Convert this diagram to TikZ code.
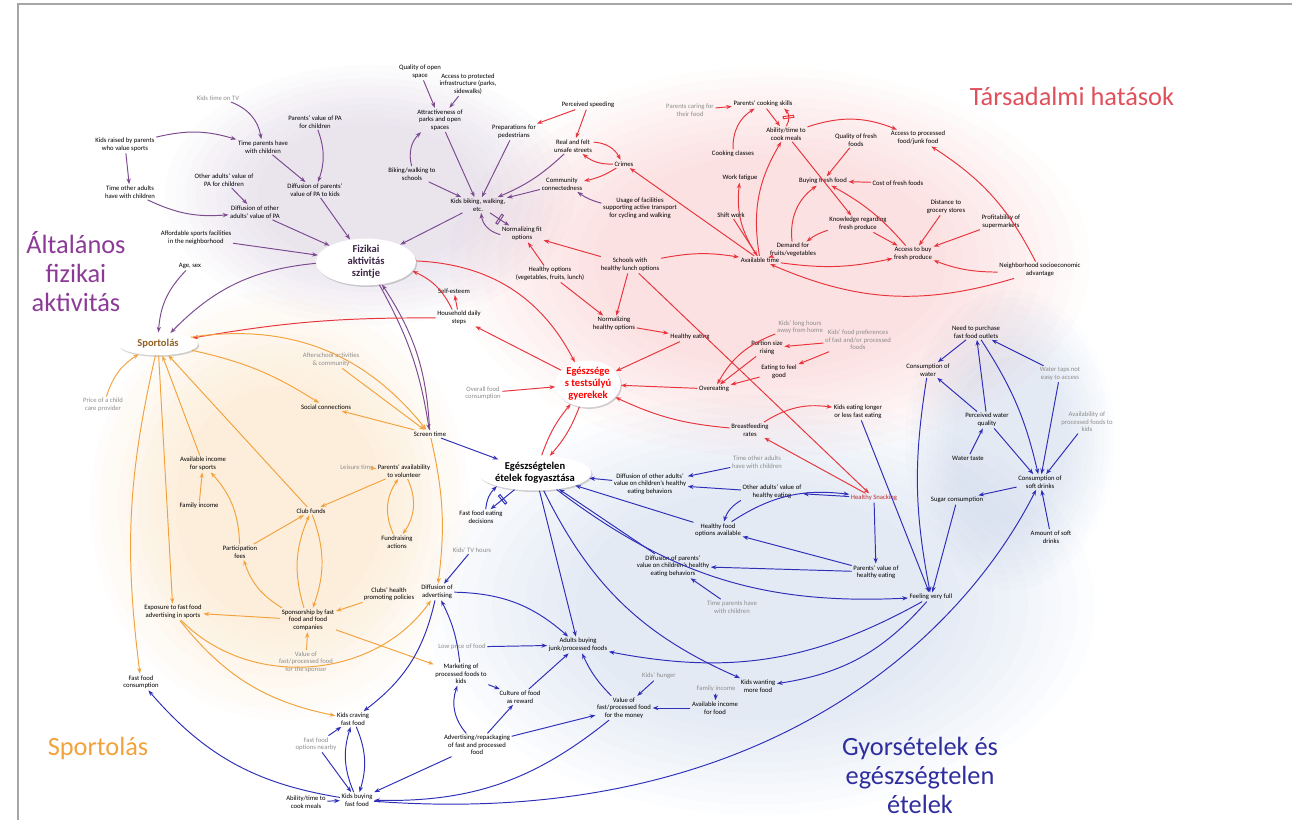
\documentclass[tikz,border=0pt]{standalone}
\usepackage{fontspec}
\setmainfont{Carlito}
\usetikzlibrary{arrows.meta, shapes.geometric, shadows}
\definecolor{lila}{HTML}{7B4A8F}
\definecolor{rojo}{HTML}{E8343C}
\definecolor{naranja}{HTML}{F2A23C}
\definecolor{azul}{HTML}{2E2EB8}
\definecolor{lilatit}{HTML}{8B3A96}
\definecolor{rojotit}{HTML}{E0505A}
\definecolor{azultit}{HTML}{2E2E9E}
\definecolor{fondoazul}{HTML}{6A8AC0}
\definecolor{fondolila}{HTML}{8A6A9E}
\tikzset{
  var/.style={font=\fontsize{3.8}{4.3}\selectfont, align=center, inner sep=.8pt},
  exo/.style={var, text=black!45},
  hub/.style={ellipse, fill=white, drop shadow={shadow xshift=.7pt, shadow yshift=-.9pt, opacity=.35}, font=\bfseries\fontsize{6}{6.8}\selectfont, align=center, inner sep=0pt},
  flecha/.style={-{Stealth[length=3.2pt, width=2.4pt]}, line width=.55pt},
  lil/.style={flecha, lila},
  roj/.style={flecha, rojo},
  nar/.style={flecha, naranja},
  azu/.style={flecha, azul},
  retraso/.style={sloped, draw, inner sep=0pt, minimum width=1.2pt, minimum height=6pt},
  titulo/.style={font=\fontsize{15}{16.5}\selectfont, align=center},
}
\begin{document}
\begin{tikzpicture}[x=0.02cm, y=-0.02cm]
\useasboundingbox (0,0) rectangle (1292,820);
% fondos
\foreach \s in {1,.95,.9,.85,.8,.75,.7,.65,.6,.55} {
  \fill[rojo, opacity=.015] (770,262) ellipse ({320*\s} and {195*\s});
  \fill[naranja, opacity=.018] (280,505) ellipse ({190*\s} and {215*\s});
  \fill[fondoazul, opacity=.018] (760,605) ellipse ({335*\s} and {210*\s});
  \fill[fondoazul, opacity=.018] (1010,440) ellipse ({105*\s} and {150*\s});
  \fill[fondolila, opacity=.018] (370,195) ellipse ({205*\s} and {130*\s});
}
\draw[gray!70, line width=1.2pt] (18,820) -- (18,4) -- (1292,4); % marco
% titulos
\node[titulo, text=rojotit] (tsoc) at (1072,96) {Társadalmi hatások};
\node[titulo, text=lilatit] (tfis) at (76,272) {Általános\\fizikai\\aktivitás};
\node[titulo, text=naranja] (tspo) at (98,748) {Sportolás};
\node[titulo, text=azultit] (tgyo) at (920,775) {Gyorsételek és\\egészségtelen\\ételek};
% nodos principales
\node[hub, text=lila!50!black, minimum width=2cm, minimum height=.8cm] (fisica) at (366,262) {Fizikai\\aktivitás\\szintje};
\node[hub, text=naranja!60!black, minimum width=1.6cm, minimum height=.45cm] (sport) at (158,344) {Sportolás};
\node[hub, text=red, minimum width=1.3cm, minimum height=.85cm] (peso) at (588,384) {Egészsége\\s testsúlyú\\gyerekek};
\node[hub, text=black, minimum width=2.2cm, minimum height=.7cm] (insano) at (535,473) {Egészségtelen\\ételek fogyasztása};
% actividad fisica
\node[var] (calidad) at (420,72) {Quality of open\\space};
\node[var] (acceso) at (468,84) {Access to protected\\infrastructure (parks,\\sidewalks)};
\node[var] (parques) at (440,120) {Attractiveness of\\parks and open\\spaces};
\node[var] (prep) at (514,132) {Preparations for\\pedestrians};
\node[exo] (tvtime) at (218,98) {Kids time on TV};
\node[var] (valpad) at (315,122) {Parents' value of PA\\for children};
\node[var] (criados) at (125,145) {Kids raised by parents\\who value sports};
\node[var] (tiempopad) at (263,147) {Time parents have\\with children};
\node[var] (valotr) at (224,180) {Other adults' value of\\PA for children};
\node[var] (tiempootr) at (130,192) {Time other adults\\have with children};
\node[var] (difpad) at (315,190) {Diffusion of parents'\\value of PA to kids};
\node[var] (difotr) at (255,212) {Diffusion of other\\adults' value of PA};
\node[var] (bicicole) at (412,174) {Biking/walking to\\schools};
\node[var] (ninosbici) at (478,205) {Kids biking, walking,\\etc.};
\node[var] (comunidad) at (562,184) {Community\\connectedness};
\node[var] (uso) at (640,208) {Usage of facilities\\supporting active transport\\for cycling and walking};
\node[var] (normfit) at (522,234) {Normalizing fit\\options};
\node[var] (asequible) at (196,238) {Affordable sports facilities\\in the neighborhood};
\node[var] (edad) at (190,266) {Age, sex};
% influencias sociales
\node[var] (velocidad) at (588,105) {Perceived speeding};
\node[var] (inseguro) at (573,146) {Real and felt\\unsafe streets};
\node[var] (crimen) at (624,164) {Crimes};
\node[exo] (cuidado) at (690,110) {Parents caring for\\their food};
\node[var] (habilidad) at (763,104) {Parents' cooking skills};
\node[var] (cocinar) at (786,134) {Ability/time to\\cook meals};
\node[var] (clases) at (733,154) {Cooking classes};
\node[var] (fatiga) at (740,178) {Work fatigue};
\node[var] (turnos) at (731,215) {Shift work};
\node[var] (calfresco) at (856,140) {Quality of fresh\\foods};
\node[var] (accproc) at (918,138) {Access to processed\\food/junk food};
\node[var] (comprar) at (823,181) {Buying fresh food};
\node[var] (coste) at (898,183) {Cost of fresh foods};
\node[var] (conoc) at (858,224) {Knowledge regarding\\fresh produce};
\node[var] (distancia) at (946,207) {Distance to\\grocery stores};
\node[var] (rentab) at (1001,222) {Profitability of\\supermarkets};
\node[var] (demanda) at (793,250) {Demand for\\fruits/vegetables};
\node[var] (accfresco) at (913,254) {Access to buy\\fresh produce};
\node[var] (barrio) at (1040,270) {Neighborhood socioeconomic\\advantage};
\node[var] (tiempo) at (760,260) {Available time};
\node[var] (escuelas) at (630,265) {Schools with\\healthy lunch options};
\node[var] (opciones) at (550,274) {Healthy options\\(vegetables, fruits, lunch)};
\node[var] (autoest) at (454,291) {Self-esteem};
\node[var] (pasos) at (459,318) {Household daily\\steps};
\node[var] (normsano) at (614,324) {Normalizing\\healthy options};
\node[var] (comesano) at (690,337) {Healthy eating};
\node[exo] (horas) at (800,327) {Kids' long hours\\away from home};
\node[exo] (prefer) at (858,340) {Kids' food preferences\\of fast and/or processed\\foods};
\node[var] (porcion) at (767,348) {Portion size\\rising};
\node[var] (sentir) at (779,372) {Eating to feel\\good};
\node[var] (sobre) at (714,389) {Overeating};
\node[exo] (consumo) at (483,393) {Overall food\\consumption};
\node[var] (comelento) at (858,412) {Kids eating longer\\or less fast eating};
\node[var] (lactancia) at (750,430) {Breastfeeding\\rates};
\node[var, text=rojo!80!black] (picoteo) at (874,498) {Healthy Snacking};
% deporte
\node[exo] (extraesc) at (331,360) {Afterschool activities\\\& community};
\node[exo] (precio) at (103,405) {Price of a child\\care provider};
\node[var] (social) at (326,407) {Social connections};
\node[var] (pantalla) at (430,434) {Screen time};
\node[exo] (tiempolib) at (357,467) {Leisure time};
\node[var] (volunt) at (404,471) {Parents' availability\\to volunteer};
\node[var] (ingsport) at (203,464) {Available income\\for sports};
\node[var] (ingfam) at (199,506) {Family income};
\node[var] (fondos) at (311,511) {Club funds};
\node[var] (cuotas) at (240,552) {Participation\\fees};
\node[var] (recauda) at (397,542) {Fundraising\\actions};
\node[var] (politica) at (389,594) {Clubs' health\\promoting policies};
\node[var] (exposic) at (173,612) {Exposure to fast food\\advertising in sports};
\node[var] (patrocinio) at (308,620) {Sponsorship by fast\\food and food\\companies};
\node[exo] (valpatro) at (306,662) {Value of\\fast/processed food\\for the sponsor};
\node[var] (comrapida) at (141,682) {Fast food\\consumption};
% comida rapida
\node[var] (necesidad) at (976,332) {Need to purchase\\fast food outlets};
\node[var] (agua) at (928,370) {Consumption of\\water};
\node[exo] (grifos) at (1060,374) {Water taps not\\easy to access};
\node[var] (percagua) at (987,420) {Perceived water\\quality};
\node[exo] (dispproc) at (1087,422) {Availability of\\processed foods to\\kids};
\node[var] (sabor) at (968,458) {Water taste};
\node[var] (refrescos) at (1040,482) {Consumption of\\soft drinks};
\node[var] (azucar) at (957,500) {Sugar consumption};
\node[var] (cantidad) at (1051,537) {Amount of soft\\drinks};
\node[var] (lleno) at (931,597) {Feeling very full};
\node[var] (valotrsano) at (772,492) {Other adults' value of\\healthy eating};
\node[var] (alimsano) at (718,530) {Healthy food\\options available};
\node[exo] (tiempootr2) at (757,462) {Time other adults\\have with children};
\node[var] (difotr2) at (650,484) {Diffusion of other adults'\\value on children's healthy\\eating behaviors};
\node[var] (difpad2) at (673,566) {Diffusion of parents'\\value on children's healthy\\eating behaviors};
\node[exo] (tiempopad2) at (732,607) {Time parents have\\with children};
\node[var] (valpadsano) at (876,572) {Parents' value of\\healthy eating};
\node[var] (decision) at (481,517) {Fast food eating\\decisions};
\node[exo] (tvninos) at (472,550) {Kids' TV hours};
\node[var] (difpubli) at (437,592) {Diffusion of\\advertising};
\node[exo] (precbajo) at (462,647) {Low price of food};
\node[var] (adultos) at (578,645) {Adults buying\\junk/processed foods};
\node[var] (market) at (461,674) {Marketing of\\processed foods to\\kids};
\node[var] (kidsquiere) at (758,686) {Kids wanting\\more food};
\node[exo] (hambre) at (659,676) {Kids' hunger};
\node[var] (premio) at (520,697) {Culture of food\\as reward};
\node[var] (valor) at (624,708) {Value of\\fast/processed food\\for the money};
\node[var] (ingcomida) at (715,708) {Available income\\for food};
\node[exo] (ingfam2) at (716,689) {Family income};
\node[var] (antojo) at (353,719) {Kids craving\\fast food};
\node[exo] (opcrap) at (316,744) {Fast food\\options nearby};
\node[var] (reempaque) at (477,745) {Advertising/repackaging\\of fast and processed\\food};
\node[var] (cocinar2) at (306,802) {Ability/time to\\cook meals};
\node[var] (compran) at (357,800) {Kids buying\\fast food};
% flechas lila
\draw[lil] (calidad) -- (parques);
\draw[lil] (acceso) -- (parques);
\draw[lil] (parques) -- (ninosbici);
\draw[lil] (bicicole) to[bend left=30] (parques);
\draw[lil] (bicicole) -- (ninosbici);
\draw[lil] (prep) -- (ninosbici);
\draw[lil] (inseguro) to[bend left=10] (ninosbici);
\draw[lil] (comunidad) -- (ninosbici);
\draw[lil] (uso) to[bend left=10] (comunidad);
\draw[lil] (ninosbici) -- node[retraso, draw=lila]{} (normfit);
\draw[lil] (normfit) to[bend left=35] (ninosbici);
\draw[lil] (ninosbici) -- (fisica);
\draw[lil] (tvtime) to[bend left=30] (tiempopad);
\draw[lil] (criados) to[bend left=15] (tiempopad);
\draw[lil] (criados) -- (tiempootr);
\draw[lil] (tiempopad) -- (difpad);
\draw[lil] (valpad) to[bend left=20] (difpad);
\draw[lil] (valotr) -- (difotr);
\draw[lil] (tiempootr) to[bend right=15] (difotr);
\draw[lil] (difotr) -- (fisica);
\draw[lil] (difpad) -- (fisica);
\draw[lil] (asequible) -- (fisica);
\draw[lil] (fisica) to[bend right=20] (sport);
\draw[lil] (edad) to[bend right=20] (sport);
\draw[lil] (fisica) to[bend left=10] (pantalla);
\draw[lil] (pantalla) to[bend right=15] (fisica);
% flechas rojas
\draw[roj] (velocidad) -- (prep);
\draw[roj] (velocidad) -- (inseguro);
\draw[roj] (inseguro) to[bend left=30] (crimen);
\draw[roj] (crimen) to[bend left=20] (inseguro);
\draw[roj] (crimen) to[bend left=10] (comunidad);
\draw[roj] (cuidado) -- (habilidad);
\draw[roj] (clases) to[bend left=30] (habilidad);
\draw[roj] (habilidad) -- (cocinar);
\draw[roj] (cocinar) to[bend right=40] node[retraso, draw=rojo]{} (habilidad);
\draw[roj] (tiempo) to[bend left=20] (fatiga);
\draw[roj] (tiempo) -- (crimen);
\draw[roj] (tiempo) to[bend left=20] (cocinar);
\draw[roj] (turnos) -- (tiempo);
\draw[roj] (cocinar) to[bend left=20] (accproc);
\draw[roj] (cocinar) -- (conoc);
\draw[roj] (calfresco) -- (comprar);
\draw[roj] (coste) -- (comprar);
\draw[roj] (demanda) to[bend left=30] (comprar);
\draw[roj] (conoc) to[bend right=10] (demanda);
\draw[roj] (conoc) -- (accfresco);
\draw[roj] (distancia) -- (accfresco);
\draw[roj] (rentab) -- (accfresco);
\draw[roj] (accfresco) to[bend right=10] (comprar);
\draw[roj] (barrio) to[bend right=15] (accproc);
\draw[roj] (barrio) to[bend left=10] (accfresco);
\draw[roj] (barrio) to[bend left=20] (tiempo);
\draw[roj] (tiempo) to[bend right=10] (accfresco);
\draw[roj] (tiempo) -- (demanda);
\draw[roj] (escuelas) -- (normfit);
\draw[roj] (escuelas) -- (normsano);
\draw[roj] (escuelas) to[bend left=10] (tiempo);
\draw[roj] (opciones) -- (normsano);
\draw[roj] (opciones) -- (normfit);
\draw[roj] (normsano) -- (comesano);
\draw[roj] (comesano) -- (peso);
\draw[roj] (pasos) -- (autoest);
\draw[roj] (pasos) to[bend right=20] (fisica);
\draw[roj] (peso) -- (pasos);
\draw[roj] (fisica) to[bend left=30] (peso);
\draw[roj] (pasos) to[bend right=5] (sport);
\draw[roj] (consumo) -- (peso);
\draw[roj] (sobre) -- (peso);
\draw[roj] (porcion) -- (sobre);
\draw[roj] (sentir) -- (sobre);
\draw[roj] (horas) to[bend right=20] (sobre);
\draw[roj] (prefer) -- (sentir);
\draw[roj] (prefer) -- (porcion);
\draw[roj] (lactancia) to[bend left=10] (peso);
\draw[roj] (lactancia) to[bend left=20] (comelento);
\draw[roj] (picoteo) -- (lactancia);
\draw[roj] (escuelas) -- (picoteo);
\draw[roj] (peso) to[bend left=10] (insano);
\draw[roj] (insano) to[bend left=10] (peso);
% flechas naranjas
\draw[nar] (sport) to[bend left=10] (social);
\draw[nar] (pantalla) -- (social);
\draw[nar] (extraesc) -- (pantalla);
\draw[nar] (sport) to[bend left=30] (pantalla);
\draw[nar] (precio) to[bend left=20] (sport);
\draw[nar] (ingsport) -- (sport);
\draw[nar] (ingfam) -- (ingsport);
\draw[nar] (cuotas) to[bend right=20] (ingsport);
\draw[nar] (fondos) -- (sport);
\draw[nar] (cuotas) -- (fondos);
\draw[nar] (tiempolib) -- (volunt);
\draw[nar] (volunt) -- (fondos);
\draw[nar] (volunt) to[bend left=30] (recauda);
\draw[nar] (recauda) to[bend left=30] (volunt);
\draw[nar] (fondos) to[bend left=20] (patrocinio);
\draw[nar] (patrocinio) to[bend left=20] (fondos);
\draw[nar] (politica) -- (patrocinio);
\draw[nar] (patrocinio) -- (exposic);
\draw[nar] (patrocinio) to[bend left=20] (cuotas);
\draw[nar] (valpatro) -- (patrocinio);
\draw[nar] (patrocinio) -- (market);
\draw[nar] (sport) -- (exposic);
\draw[nar] (sport) to[bend right=10] (comrapida);
\draw[nar] (exposic) to[bend right=20] (antojo);
\draw[nar] (exposic) to[bend right=50] (difpubli);
\draw[nar] (pantalla) to[bend left=10] (difpubli);
% flechas azules
\draw[azu] (necesidad) -- (agua);
\draw[azu] (grifos) -- (necesidad);
\draw[azu] (percagua) -- (agua);
\draw[azu] (percagua) -- (necesidad);
\draw[azu] (percagua) -- (refrescos);
\draw[azu] (sabor) -- (percagua);
\draw[azu] (necesidad) to[bend left=10] (refrescos);
\draw[azu] (grifos) -- (refrescos);
\draw[azu] (dispproc) -- (refrescos);
\draw[azu] (cantidad) -- (refrescos);
\draw[azu] (refrescos) -- (azucar);
\draw[azu] (agua) to[bend right=10] (lleno);
\draw[azu] (azucar) -- (lleno);
\draw[azu] (comelento) -- (lleno);
\draw[azu] (lleno) to[bend left=20] (kidsquiere);
\draw[azu] (compran) .. controls (760,830) and (960,640) .. (refrescos);
\draw[azu] (picoteo) -- (valpadsano);
\draw[azu] (picoteo) -- (valotrsano);
\draw[azu] (valotrsano) -- (difotr2);
\draw[azu] (tiempootr2) -- (difotr2);
\draw[azu] (valotrsano) to[bend right=20] (alimsano);
\draw[azu] (alimsano) to[bend left=20] (picoteo);
\draw[azu] (valpadsano) -- (alimsano);
\draw[azu] (valpadsano) -- (difpad2);
\draw[azu] (tiempopad2) -- (difpad2);
\draw[azu] (insano) -- node[retraso, draw=azul]{} (decision);
\draw[azu] (decision) to[bend left=20] (insano);
\draw[azu] (insano) to[bend right=20] (lleno);
\draw[azu] (insano) to[bend right=20] (kidsquiere);
\draw[azu] (insano) -- (adultos);
\draw[azu] (alimsano) -- (insano);
\draw[azu] (difotr2) -- (insano);
\draw[azu] (difpad2) -- (insano);
\draw[azu] (pantalla) -- (insano);
\draw[azu] (tvninos) -- (difpubli);
\draw[azu] (difpubli) to[bend left=20] (adultos);
\draw[azu] (precbajo) -- (adultos);
\draw[azu] (market) -- (premio);
\draw[azu] (premio) -- (adultos);
\draw[azu] (valor) to[bend left=10] (adultos);
\draw[azu] (hambre) -- (valor);
\draw[azu] (ingcomida) -- (valor);
\draw[azu] (ingfam2) -- (ingcomida);
\draw[azu] (reempaque) to[bend left=30] (market);
\draw[azu] (reempaque) -- (premio);
\draw[azu] (reempaque) -- (valor);
\draw[azu] (reempaque) -- (compran);
\draw[azu] (valor) to[bend left=20] (compran);
\draw[azu] (market) to[bend right=10] (difpubli);
\draw[azu] (difpubli) to[bend left=20] (antojo);
\draw[azu] (antojo) to[bend left=20] (compran);
\draw[azu] (compran) to[bend left=20] (antojo);
\draw[azu] (opcrap) -- (antojo);
\draw[azu] (opcrap) -- (compran);
\draw[azu] (cocinar2) -- (compran);
\draw[azu] (compran) to[bend left=20] (comrapida);
\draw[azu] (lleno) to[bend left=20] (adultos);
\end{tikzpicture}
\end{document}
